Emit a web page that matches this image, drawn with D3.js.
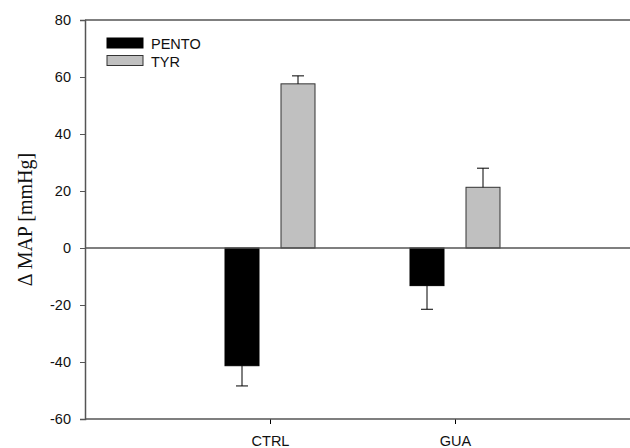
<!DOCTYPE html>
<html>
<head>
<meta charset="utf-8">
<script src="https://cdn.jsdelivr.net/npm/d3@7"></script>
<style>
  html, body { margin: 0; padding: 0; background: #fff; }
  svg { display: block; }
</style>
</head>
<body>
<svg id="chart" width="630" height="448"></svg>
<script>
// Change in mean arterial pressure per treatment group
const groups = ["CTRL", "GUA"];
const seriesNames = ["PENTO", "TYR"];
const pentoMean = [-41.3, -13.2];
const pentoErr = [7.1, 8.3];
const tyrMean = [57.6, 21.3];
const tyrErr = [2.8, 6.7];
const yTicks = [-60, -40, -20, 0, 20, 40, 60, 80];
const seriesFill = ["#000000", "#c0c0c0"];

const svg = d3.select("#chart");
const plotLeft = 85, plotTop = 20, plotBottom = 419, plotRight = 640, frameEnd = 630;

// Groups sit at positions 1 and 2 of a 0..3 linear axis
const x = d3.scaleLinear().domain([0, 3]).range([plotLeft, plotRight]);
const y = d3.scaleLinear().domain([-60, 80]).range([plotBottom, plotTop]);
const barW = 34, gap = 22;

const axisColor = "#555";
const fontSans = "Arial, 'Liberation Sans', sans-serif";
const fontSize = 14.5;

// Bars
const series = [
  { name: seriesNames[0], mean: pentoMean, err: pentoErr, fill: seriesFill[0], stroke: "#000" },
  { name: seriesNames[1], mean: tyrMean, err: tyrErr, fill: seriesFill[1], stroke: "#333" }
];

series.forEach((s, si) => {
  const offset = si === 0 ? -(gap / 2 + barW) : gap / 2;
  groups.forEach((g, gi) => {
    const cx = x(gi + 1);
    const v = s.mean[gi];
    const x0 = cx + offset;
    svg.append("rect")
      .attr("x", x0)
      .attr("y", y(Math.max(0, v)))
      .attr("width", barW)
      .attr("height", Math.abs(y(v) - y(0)))
      .attr("fill", s.fill)
      .attr("stroke", s.stroke)
      .attr("stroke-width", 1);
    // one-sided error bar, pointing away from zero
    const ex = x0 + barW / 2;
    const end = v >= 0 ? v + s.err[gi] : v - s.err[gi];
    svg.append("line")
      .attr("x1", ex).attr("x2", ex)
      .attr("y1", y(v)).attr("y2", y(end))
      .attr("stroke", "#000").attr("stroke-width", 1);
    svg.append("line")
      .attr("x1", ex - 6).attr("x2", ex + 6)
      .attr("y1", y(end)).attr("y2", y(end))
      .attr("stroke", "#000").attr("stroke-width", 1);
  });
});

// Zero reference line
svg.append("line")
  .attr("x1", plotLeft).attr("x2", frameEnd)
  .attr("y1", y(0)).attr("y2", y(0))
  .attr("stroke", axisColor).attr("stroke-width", 1.5);

// Frame: top rule
svg.append("line")
  .attr("x1", plotLeft).attr("x2", frameEnd)
  .attr("y1", plotTop).attr("y2", plotTop)
  .attr("stroke", axisColor).attr("stroke-width", 1.5);

// Y axis
const yAxis = d3.axisLeft(y).tickValues(yTicks).tickSize(5).tickPadding(9).tickFormat(d => String(d));
const gy = svg.append("g").attr("transform", `translate(${plotLeft},0)`).call(yAxis);
gy.select(".domain").attr("stroke", axisColor).attr("stroke-width", 1.5);
gy.selectAll(".tick line").attr("stroke", axisColor).attr("stroke-width", 1);
gy.selectAll(".tick text")
  .attr("font-family", fontSans).attr("font-size", fontSize).attr("fill", "#111");

// X axis
const xAxis = d3.axisBottom(x).tickValues([1, 2]).tickSize(5).tickPadding(12)
  .tickFormat(d => groups[d - 1]);
const gx = svg.append("g").attr("transform", `translate(0,${plotBottom})`).call(xAxis);
gx.select(".domain").remove();
gx.append("line").attr("x1", plotLeft).attr("x2", frameEnd).attr("y1", 0).attr("y2", 0)
  .attr("stroke", axisColor).attr("stroke-width", 1.5);
gx.selectAll(".tick line").attr("stroke", "#000").attr("stroke-width", 1);
gx.selectAll(".tick text")
  .attr("font-family", fontSans).attr("font-size", fontSize).attr("fill", "#111");

// Y axis title
svg.append("text")
  .attr("transform", `translate(32,${(plotTop + plotBottom) / 2}) rotate(-90)`)
  .attr("text-anchor", "middle")
  .attr("font-family", "'Times New Roman', 'Liberation Serif', serif")
  .attr("font-size", 20)
  .attr("fill", "#111")
  .text("\u0394 MAP [mmHg]");

// Legend
series.forEach((s, i) => {
  const ly = 38 + i * 17.5;
  svg.append("rect")
    .attr("x", 107).attr("y", ly)
    .attr("width", 36).attr("height", 10)
    .attr("fill", s.fill).attr("stroke", s.stroke).attr("stroke-width", 1);
  svg.append("text")
    .attr("x", 151).attr("y", ly + 11)
    .attr("font-family", fontSans).attr("font-size", fontSize).attr("fill", "#111")
    .text(s.name);
});
</script>
</body>
</html>
